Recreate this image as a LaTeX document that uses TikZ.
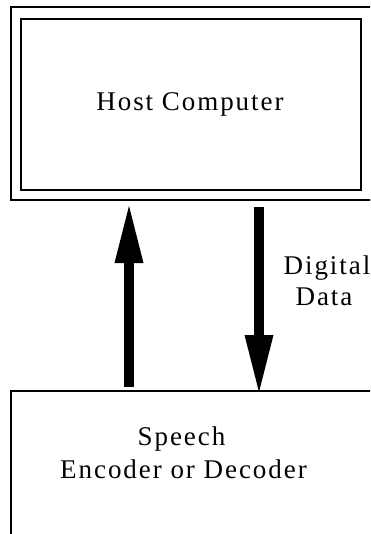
\documentclass[tikz,border=0pt]{standalone}
\usepackage{fontspec}
\setmainfont{Liberation Serif}
\newfontfamily\lsfont{Liberation Serif}[LetterSpace=7.2]
\usetikzlibrary{arrows.meta}
\tikzset{
  boxline/.style={draw=black, line width=2pt, fill=none, inner sep=0pt},
  lbl/.style={font=\lsfont\fontsize{27}{32}\selectfont, inner sep=0pt, anchor=base},
  bigarrow/.style={line width=10pt, -{Triangle[width=29pt,length=57pt,line width=0pt]}}
}
\begin{document}
\begin{tikzpicture}[x=1pt,y=-1pt]
\useasboundingbox (0,0) rectangle (370,534);
\clip (0,0) rectangle (370,534);
\fill[white] (0,0) rectangle (370,534);
% boxes
\node[boxline, minimum width=369pt, minimum height=193pt] (frame) at (195.5,103.5) {};
\node[boxline, minimum width=340pt, minimum height=171pt] (host) at (191,104.5) {};
\node[boxline, minimum width=369pt, minimum height=169pt] (codec) at (195.5,475.5) {};
% labels
\node[lbl] (hostlbl) at (190,111) {Host Computer};
\node[lbl] (dig1) at (327,274) {Digital};
\node[lbl] (dig2) at (324,305) {Data};
\node[lbl] (sp1) at (181.5,445) {Speech};
\node[lbl] (sp2) at (183.5,478) {Encoder or Decoder};
% arrows
\coordinate (upS) at (129,387);
\coordinate (upE) at (129,206);
\coordinate (dnS) at (259,207);
\coordinate (dnE) at (259,392);
\draw[bigarrow] (upS) -- (upE);
\draw[bigarrow] (dnS) -- (dnE);
\end{tikzpicture}
\end{document}
